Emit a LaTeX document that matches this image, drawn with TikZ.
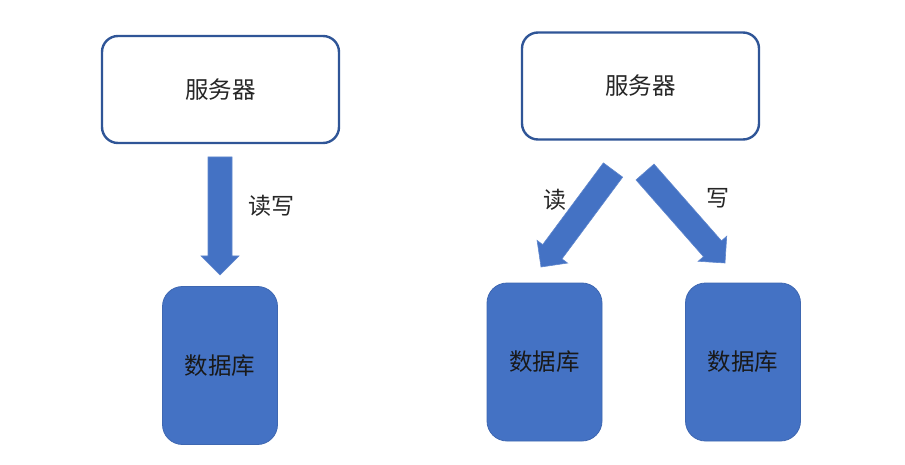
\documentclass[tikz,border=0pt]{standalone}
\usepackage{fontspec}
\setmainfont{Noto Sans CJK SC}
\usetikzlibrary{calc}
\definecolor{boxblue}{HTML}{2F5597}
\definecolor{fillblue}{HTML}{4472C4}
\definecolor{dbedge}{HTML}{3E67B1}
\tikzset{
  server/.style={draw=boxblue, line width=2.4pt, rounded corners=16pt, fill=white,
    minimum width=237pt, minimum height=107pt, inner sep=0pt,
    font=\fontsize{23.5}{26}\selectfont, text=black!85},
  dbbox/.style={draw=dbedge, line width=0.8pt, rounded corners=20pt, fill=fillblue,
    minimum width=115pt, minimum height=158pt, inner sep=0pt,
    font=\fontsize{23.5}{26}\selectfont, text=black!90},
  lbl/.style={font=\fontsize{23}{26}\selectfont, text=black!85, inner sep=0pt},
  blockarrow/.style={fill=fillblue, draw=fillblue!85!white, line width=0.6pt}
}
\newcommand{\myblockarrow}[2]{%
  \path[blockarrow]
    ($(#1)!12pt!90:(#2)$) --
    ($($(#2)!19pt!(#1)$)!12pt!-90:(#1)$) --
    ($($(#2)!19pt!(#1)$)!19pt!-90:(#1)$) --
    (#2) --
    ($($(#2)!19pt!(#1)$)!19pt!90:(#1)$) --
    ($($(#2)!19pt!(#1)$)!12pt!90:(#1)$) --
    ($(#1)!12pt!-90:(#2)$) -- cycle;}
\begin{document}
\begin{tikzpicture}[x=1pt,y=-1pt]
\useasboundingbox (0,0) rectangle (905,465);
% left
\node[server] (s1) at (220.5,89.5) {服务器};
\node[dbbox] (d1) at (220,365.5) {数据库};
\coordinate (a1t) at (220,157);
\coordinate (a1h) at (220,275);
\myblockarrow{a1t}{a1h}
\node[lbl] (l1) at (271,206) {读写};
% right
\node[server] (s2) at (640.5,86) {服务器};
\node[dbbox] (d2) at (544.5,362) {数据库};
\node[dbbox] (d3) at (743,362) {数据库};
\coordinate (a2t) at (613,170);
\coordinate (a2h) at (541,267);
\myblockarrow{a2t}{a2h}
\coordinate (a3t) at (645,172);
\coordinate (a3h) at (725,263);
\myblockarrow{a3t}{a3h}
\node[lbl] (l2) at (555,200) {读};
\node[lbl] (l3) at (718,198) {写};
\end{tikzpicture}
\end{document}
